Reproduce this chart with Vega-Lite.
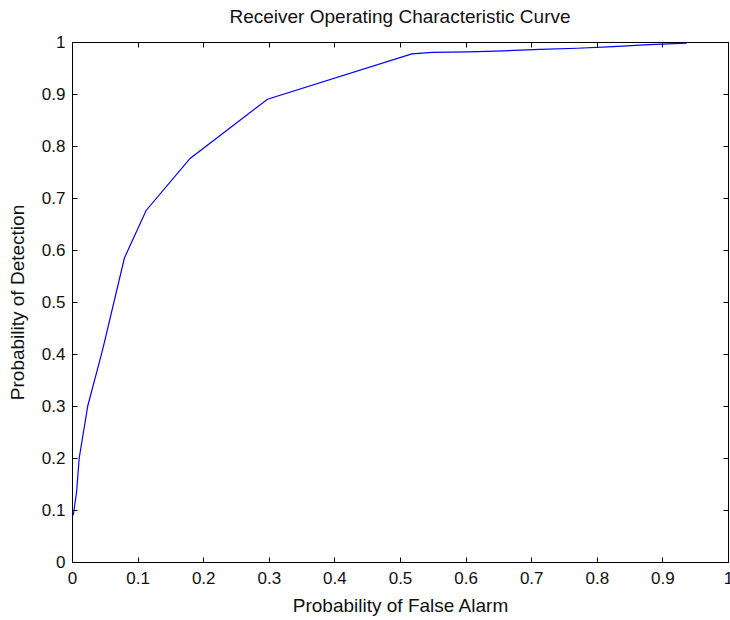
{
  "$schema": "https://vega.github.io/schema/vega-lite/v6.json",
  "autosize": "none",
  "width": 656,
  "height": 520,
  "padding": {"left": 72, "top": 42, "right": 2, "bottom": 58},
  "background": "white",
  "config": {
    "font": "Liberation Sans",
    "view": {"stroke": "black", "strokeWidth": 1},
    "axis": {
      "grid": false,
      "domainColor": "black",
      "tickColor": "black",
      "labelColor": "#111",
      "titleColor": "#111",
      "labelFont": "Liberation Sans",
      "titleFont": "Liberation Sans",
      "labelFontSize": 17,
      "titleFontSize": 19,
      "titleFontWeight": "normal",
      "tickSize": -5,
      "labelFlush": false,
      "labelOverlap": false
    }
  },
  "title": {
    "text": "Receiver Operating Characteristic Curve",
    "fontSize": 19,
    "fontWeight": "normal",
    "font": "Liberation Sans",
    "color": "#111",
    "offset": 6,
    "anchor": "middle"
  },
  "data": {
    "values": [
      {"pfa": 0.002, "pd": 0.09},
      {"pfa": 0.007, "pd": 0.135},
      {"pfa": 0.011, "pd": 0.2},
      {"pfa": 0.024, "pd": 0.3},
      {"pfa": 0.047, "pd": 0.41},
      {"pfa": 0.08, "pd": 0.585},
      {"pfa": 0.113, "pd": 0.676},
      {"pfa": 0.18, "pd": 0.776},
      {"pfa": 0.298, "pd": 0.89},
      {"pfa": 0.518, "pd": 0.977},
      {"pfa": 0.549, "pd": 0.98},
      {"pfa": 0.604, "pd": 0.981},
      {"pfa": 0.659, "pd": 0.983},
      {"pfa": 0.713, "pd": 0.986},
      {"pfa": 0.77, "pd": 0.988},
      {"pfa": 0.825, "pd": 0.991},
      {"pfa": 0.88, "pd": 0.995},
      {"pfa": 0.937, "pd": 0.998}
    ]
  },
  "layer": [
    {
      "mark": {"type": "line", "color": "#0000ff", "strokeWidth": 1.2, "clip": true},
      "encoding": {
        "x": {
          "field": "pfa", "type": "quantitative", "title": "Probability of False Alarm",
          "scale": {"domain": [0, 1], "nice": false, "zero": false},
          "axis": {"values": [0, 0.1, 0.2, 0.3, 0.4, 0.5, 0.6, 0.7, 0.8, 0.9, 1], "format": "~g", "labelPadding": 13, "titlePadding": 10}
        },
        "y": {
          "field": "pd", "type": "quantitative", "title": "Probability of Detection",
          "scale": {"domain": [0, 1], "nice": false, "zero": false},
          "axis": {"values": [0, 0.1, 0.2, 0.3, 0.4, 0.5, 0.6, 0.7, 0.8, 0.9, 1], "format": "~g", "labelPadding": 12, "titlePadding": 14}
        },
        "order": {"field": "pfa", "type": "quantitative"}
      }
    },
    {
      "mark": {"type": "point", "opacity": 0},
      "encoding": {
        "x": {
          "field": "pfa", "type": "quantitative",
          "axis": {"orient": "top", "values": [0, 0.1, 0.2, 0.3, 0.4, 0.5, 0.6, 0.7, 0.8, 0.9, 1], "labels": false, "title": null}
        },
        "y": {
          "field": "pd", "type": "quantitative",
          "axis": {"orient": "right", "values": [0, 0.1, 0.2, 0.3, 0.4, 0.5, 0.6, 0.7, 0.8, 0.9, 1], "labels": false, "title": null}
        }
      }
    }
  ],
  "resolve": {"axis": {"x": "independent", "y": "independent"}}
}
